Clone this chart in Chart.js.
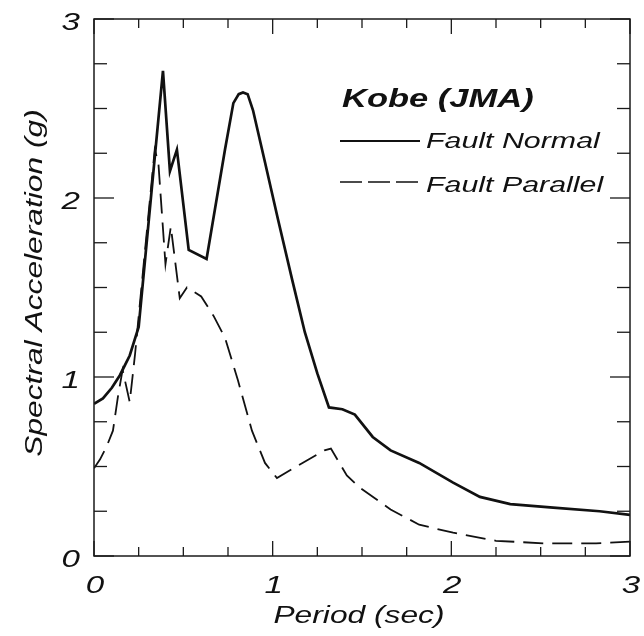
<!DOCTYPE html>
<html><head><meta charset="utf-8">
<script src="https://cdn.jsdelivr.net/npm/chart.js@4/dist/chart.umd.min.js"></script>
<style>html,body{margin:0;padding:0;background:#fff;overflow:hidden}#wrap{width:644px;height:636px;position:relative}</style>
</head><body><div id="wrap"><canvas id="c" width="644" height="636"></canvas></div>
<script>
const periodNormal = [0, 0.05, 0.1, 0.145, 0.2, 0.25, 0.386, 0.425, 0.464, 0.53, 0.63, 0.733, 0.78, 0.81, 0.834, 0.86, 0.89, 0.957, 1.03, 1.11, 1.18, 1.25, 1.315, 1.39, 1.46, 1.56, 1.66, 1.82, 2.01, 2.16, 2.33, 2.57, 2.83, 3.0];
const accelNormal  = [0.85, 0.88, 0.94, 1.01, 1.12, 1.28, 2.71, 2.15, 2.27, 1.71, 1.66, 2.27, 2.53, 2.58, 2.59, 2.58, 2.49, 2.20, 1.88, 1.54, 1.25, 1.02, 0.83, 0.82, 0.79, 0.665, 0.59, 0.52, 0.41, 0.33, 0.29, 0.27, 0.25, 0.23];
const periodParallel = [0, 0.034, 0.07, 0.106, 0.134, 0.16, 0.2, 0.23, 0.28, 0.34, 0.36, 0.40, 0.43, 0.48, 0.52, 0.6, 0.67, 0.733, 0.806, 0.884, 0.957, 1.024, 1.15, 1.29, 1.326, 1.415, 1.49, 1.66, 1.82, 2.01, 2.25, 2.53, 2.81, 3.0];
const accelParallel  = [0.49, 0.54, 0.61, 0.70, 0.89, 1.04, 0.86, 1.13, 1.65, 2.27, 2.2, 1.63, 1.84, 1.44, 1.50, 1.45, 1.34, 1.22, 0.98, 0.70, 0.52, 0.435, 0.51, 0.59, 0.60, 0.45, 0.38, 0.26, 0.175, 0.13, 0.085, 0.07, 0.07, 0.08];
const xTickLabels = ['0', '1', '2', '3'];
const yTickLabels = ['0', '1', '2', '3'];
const seriesNames = ['Fault Normal', 'Fault Parallel'];
const legendTitle = 'Kobe (JMA)';
const xTitle = 'Period (sec)';
const yTitle = 'Spectral Acceleration (g)';

const STRETCH = 1.38;
const FONT = '"Liberation Sans", Arial, Helvetica, sans-serif';
function stext(ctx, text, x, y, font, align, rot) {
  ctx.save();
  ctx.font = font;
  ctx.translate(x, y);
  if (rot) ctx.rotate(rot);
  ctx.scale(STRETCH, 1);
  ctx.textAlign = align;
  ctx.textBaseline = 'alphabetic';
  ctx.fillStyle = '#111';
  ctx.fillText(text, 0, 0);
  ctx.restore();
}
function seg(ctx, x1, y1, x2, y2) { ctx.beginPath(); ctx.moveTo(x1, y1); ctx.lineTo(x2, y2); ctx.stroke(); }

const decorPlugin = {
  id: 'decor',
  afterDraw(chart) {
    const { ctx, chartArea: a, scales: { x, y } } = chart;
    ctx.save();
    ctx.strokeStyle = '#1a1a1a';
    ctx.lineWidth = 1.5;
    ctx.strokeRect(a.left, a.top, a.right - a.left, a.bottom - a.top);
    ctx.lineWidth = 1.3;
    for (let i = 0; i <= 12; i++) {
      const v = x.min + i * 0.25;
      const px = x.getPixelForValue(v);
      const L = (i % 4 === 0) ? 15 : 9;
      seg(ctx, px, a.bottom, px, a.bottom - L);
      seg(ctx, px, a.top, px, a.top + L);
    }
    for (let i = 0; i <= 12; i++) {
      const v = y.min + i * 0.25;
      const py = y.getPixelForValue(v);
      const L = (i % 4 === 0) ? 20 : 13;
      seg(ctx, a.left, py, a.left + L, py);
      seg(ctx, a.right, py, a.right - L, py);
    }
    // tick labels
    const tf = 'italic 24px ' + FONT;
    x.ticks.forEach((t, i) => {
      stext(ctx, xTickLabels[i], x.getPixelForValue(t.value) + 1, a.bottom + 37, tf, 'center');
    });
    y.ticks.forEach((t, i) => {
      stext(ctx, yTickLabels[i], a.left - 14, y.getPixelForValue(t.value) + 11, tf, 'right');
    });
    // axis titles
    stext(ctx, xTitle, (a.left + a.right) / 2 - 3, 623, 'italic 23px ' + FONT, 'center');
    stext(ctx, yTitle, 42, 283, 'italic 23px ' + FONT, 'center', -Math.PI / 2);
    // legend
    stext(ctx, legendTitle, 342, 107, 'italic bold 25px ' + FONT, 'left');
    const ds = chart.data.datasets;
    ctx.strokeStyle = '#111';
    ctx.lineWidth = 2;
    ctx.setLineDash([]);
    seg(ctx, 340, 141, 420, 141);
    ctx.setLineDash([22, 6]);
    ctx.lineWidth = 1.6;
    seg(ctx, 340, 182, 422, 182);
    ctx.setLineDash([]);
    stext(ctx, ds[0].label, 426, 148, 'italic 22px ' + FONT, 'left');
    stext(ctx, ds[1].label, 426, 192, 'italic 22px ' + FONT, 'left');
    ctx.restore();
  }
};

new Chart(document.getElementById('c'), {
  type: 'line',
  data: {
    datasets: [
      {
        label: seriesNames[0],
        data: periodNormal.map((p, i) => ({ x: p, y: accelNormal[i] })),
        borderColor: '#111', borderWidth: 2.7, pointRadius: 0, tension: 0, fill: false
      },
      {
        label: seriesNames[1],
        data: periodParallel.map((p, i) => ({ x: p, y: accelParallel[i] })),
        borderColor: '#111', borderWidth: 1.8, borderDash: [20, 9], pointRadius: 0, tension: 0, fill: false
      }
    ]
  },
  options: {
    responsive: false,
    animation: false,
    events: [],
    layout: { padding: { top: 19, right: 14, left: 0, bottom: 0 } },
    plugins: { legend: { display: false }, tooltip: { enabled: false }, title: { display: false } },
    scales: {
      x: {
        type: 'linear', min: 0, max: 3,
        ticks: { stepSize: 1, display: false },
        grid: { display: false }, border: { display: false },
        afterFit(s) { s.height = 80; }
      },
      y: {
        type: 'linear', min: 0, max: 3,
        ticks: { stepSize: 1, display: false },
        grid: { display: false }, border: { display: false },
        afterFit(s) { s.width = 94; }
      }
    }
  },
  plugins: [decorPlugin]
});
</script>
</body></html>
